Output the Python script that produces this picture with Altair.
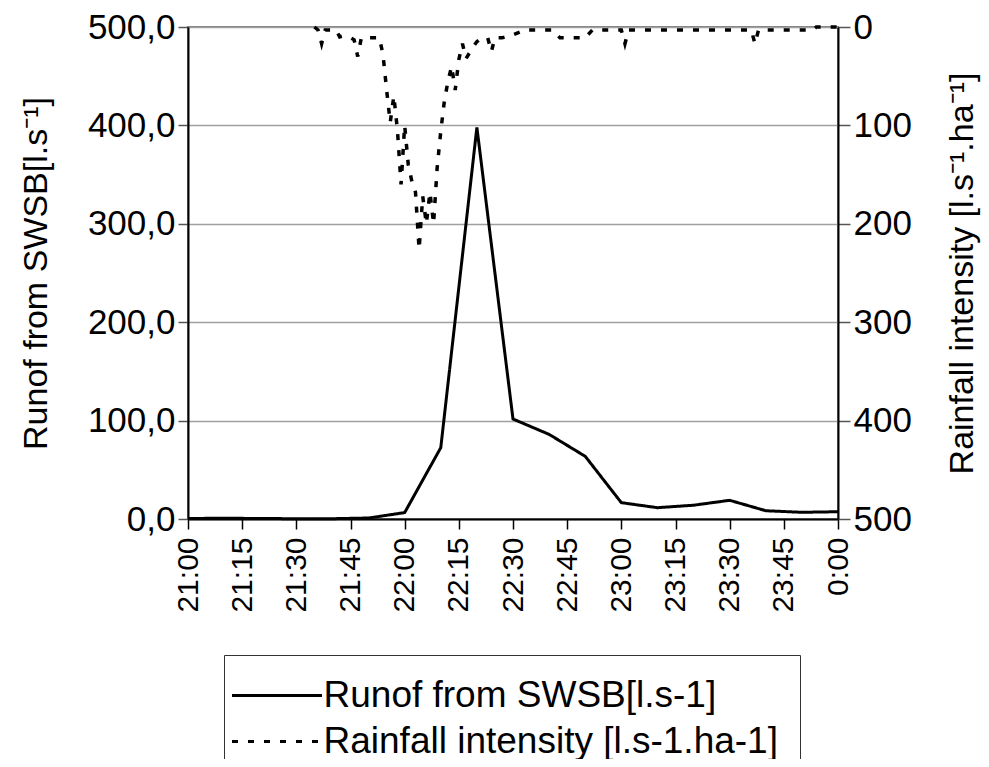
import altair as alt
import pandas as pd

# ---- data ----
runoff_times = ["21:00", "21:10", "21:20", "21:30", "21:40", "21:50", "22:00", "22:10",
                "22:20", "22:30", "22:40", "22:50", "23:00", "23:10", "23:20", "23:30",
                "23:40", "23:50", "0:00"]
runoff_values = [0.5, 0.8, 0.5, 0.3, 0.3, 1.0, 6.5, 72.5,
                 398.0, 101.6, 86.0, 63.7, 16.6, 11.5, 14.0, 19.0,
                 8.4, 6.8, 7.4]

rain_times = ["21:35", "21:36", "21:37", "21:38", "21:41", "21:42", "21:43", "21:44",
              "21:45", "21:46", "21:47", "21:48", "21:53", "21:54", "21:55", "21:56",
              "21:57", "21:58", "21:59", "22:00", "22:01", "22:02", "22:03", "22:04",
              "22:05", "22:06", "22:07", "22:08", "22:09", "22:10", "22:11", "22:12",
              "22:13", "22:14", "22:15", "22:16", "22:17", "22:18", "22:19", "22:20",
              "22:21", "22:22", "22:23", "22:24", "22:25", "22:27", "22:28", "22:30",
              "22:32", "22:33", "22:41", "22:43", "22:50", "22:52", "23:00", "23:01",
              "23:02", "23:36", "23:37", "23:38", "23:53", "23:54", "0:00"]
rain_values = [0, 3, 17, 3, 3, 10, 9, 10,
               11, 13, 30, 11, 11, 28, 64, 97,
               70, 105, 160, 100, 140, 157, 168, 226,
               172, 200, 168, 200, 143, 106, 75, 55,
               40, 64, 33, 17, 32, 26, 20, 15,
               12, 11, 11, 25, 11, 11, 10, 8,
               5, 3, 3, 11, 11, 3, 3, 17,
               3, 3, 17, 3, 3, 0, 0]

x_tick_minutes = list(range(0, 181, 15))
left_ticks = [0, 100, 200, 300, 400, 500]
right_ticks = [0, 100, 200, 300, 400, 500]
series_names = ["Runof from SWSB[l.s-1]", "Rainfall intensity [l.s-1.ha-1]"]
left_title = "Runof from SWSB[l.s\u207b\u00b9]"
right_title = "Rainfall intensity [l.s\u207b\u00b9.ha\u207b\u00b9]"


def to_minutes(t):
    h, m = map(int, t.split(":"))
    return (h * 60 + m - 21 * 60) % 1440


runoff_df = pd.DataFrame({
    "minute": [to_minutes(t) for t in runoff_times],
    "value": runoff_values,
    "series": series_names[0],
})
rain_df = pd.DataFrame({
    "minute": [to_minutes(t) for t in rain_times],
    "value": rain_values,
    "series": series_names[1],
})

FONT = "Liberation Sans"
X_FS = 30
Y_FS = 35
R_FS = 35
TITLE_FS = 34
LEG_FS = 37

x_enc = alt.X(
    "minute:Q",
    scale=alt.Scale(domain=[0, 180], nice=False, zero=False),
    axis=alt.Axis(
        values=x_tick_minutes,
        labelExpr="(floor((1260 + datum.value) / 60) % 24) + ':' + (datum.value % 60 < 10 ? '0' : '') + (datum.value % 60)",
        labelAngle=270, labelAlign="right", labelBaseline="middle",
        labelFont=FONT, labelFontSize=X_FS, labelColor="black",
        tickSize=10, tickColor="black", tickWidth=1.5,
        labelPadding=8, grid=False, title=None,
        domainColor="black", domainWidth=2,
        labelOverlap=False, labelFlush=False,
    ),
)

dash = alt.StrokeDash(
    "series:N",
    scale=alt.Scale(domain=series_names, range=[[1, 0], [6, 10]]),
    legend=alt.Legend(
        title=None, orient="none", legendX=36, legendY=628,
        direction="vertical", symbolType="M-4.5,0H4.5", symbolSize=400,
        symbolStrokeWidth=3, symbolStrokeColor="black", symbolOffset=12.5,
        labelFont=FONT, labelFontSize=LEG_FS, labelColor="black", labelLimit=800,
        strokeColor="#333333", fillColor="white", padding=22,
        labelOffset=28, rowPadding=8,
    ),
)

runoff = alt.Chart(runoff_df).mark_line(color="black", strokeWidth=3).encode(
    x=x_enc,
    y=alt.Y(
        "value:Q",
        scale=alt.Scale(domain=[0, 500], nice=False),
        axis=alt.Axis(
            orient="left", values=left_ticks,
            labelExpr="replace(format(datum.value, '.1f'), '.', ',')",
            labelFont=FONT, labelFontSize=Y_FS, labelColor="black", labelPadding=3,
            tickSize=10, tickColor="#555555", tickWidth=1.5,
            domainColor="black", domainWidth=2,
            grid=True, gridColor="#a0a0a0", gridWidth=1.5,
            title=left_title, titleFont=FONT, titleFontSize=TITLE_FS, titleFontWeight="normal",
            titleColor="black", titleAngle=270, titleX=-152, titleY=246,
            titleAlign="center", titleBaseline="middle",
        ),
    ),
    strokeDash=dash,
)

rain = alt.Chart(rain_df).mark_line(color="black", strokeWidth=3.5).encode(
    x=x_enc,
    y=alt.Y(
        "value:Q",
        scale=alt.Scale(domain=[0, 500], nice=False, reverse=True),
        axis=alt.Axis(
            orient="right", values=right_ticks,
            labelFont=FONT, labelFontSize=R_FS, labelColor="black", labelPadding=3,
            tickSize=12, tickColor="#555555", tickWidth=1.5,
            domainColor="black", domainWidth=2, grid=False,
            title=right_title, titleFont=FONT, titleFontSize=TITLE_FS, titleFontWeight="normal",
            titleColor="black", titleAngle=270, titleX=124, titleY=246,
            titleAlign="center", titleBaseline="middle",
        ),
    ),
    strokeDash=dash,
)

chart = alt.layer(runoff, rain).resolve_scale(y="independent").properties(
    width=650,
    height=492,
    autosize=alt.AutoSizeParams(type="none"),
    padding={"left": 180, "top": 19, "right": 143, "bottom": 240},
    background="white",
).configure_view(stroke="#808080", strokeWidth=2)

chart.save("out.html", embed_options={"renderer": "svg", "actions": False})
